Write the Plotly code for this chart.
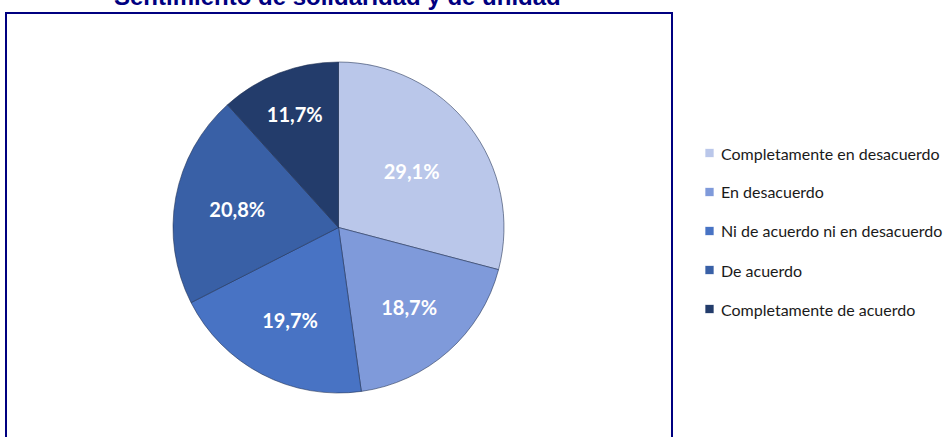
import plotly.graph_objects as go

title = "Sentimiento de solidaridad y de unidad"
categories = [
    "Completamente en desacuerdo",
    "En desacuerdo",
    "Ni de acuerdo ni en desacuerdo",
    "De acuerdo",
    "Completamente de acuerdo",
]
values = [29.1, 18.7, 19.7, 20.8, 11.7]
colors = ["#BAC7EA", "#7F9ADA", "#4873C4", "#3960A6", "#233C6B"]

W, H = 947, 437
labels = [f"{v:.1f}%".replace(".", ",") for v in values]


def px(x):
    return x / W


def py(y):
    return 1 - y / H


fig = go.Figure(go.Pie(
    labels=categories,
    values=values,
    text=labels,
    textinfo="text",
    textposition="inside",
    insidetextorientation="horizontal",
    textfont=dict(family="Lato", size=20, color="white", weight="bold"),
    marker=dict(colors=colors, line=dict(color="rgba(30,45,80,0.55)", width=1)),
    sort=False,
    direction="clockwise",
    rotation=0,
    hoverinfo="label+percent",
    showlegend=False,
    domain=dict(x=[px(173), px(504)], y=[py(393), py(62)]),
))

# outer frame of the chart area
fig.add_shape(type="rect", xref="paper", yref="paper",
              x0=px(6), x1=px(672), y0=py(460), y1=py(13),
              line=dict(color="#000080", width=2), fillcolor="rgba(0,0,0,0)")

# title, partly cut off at the top as in the original
fig.add_annotation(text="<b>" + title + "</b>", x=px(337), y=py(-4),
                   xref="paper", yref="paper", xanchor="center", yanchor="middle",
                   showarrow=False, font=dict(family="Liberation Sans", size=24, color="#000080"))

# legend on the right
row0, gap = 153, 39
for i, (name, col) in enumerate(zip(categories, colors)):
    yc = row0 + i * gap
    fig.add_shape(type="rect", xref="paper", yref="paper",
                  x0=px(705), x1=px(714), y0=py(yc + 4.5), y1=py(yc - 4.5),
                  fillcolor=col, line=dict(color="rgba(255,255,255,0.7)", width=1))
    fig.add_annotation(text=name, x=px(719), y=py(yc), xref="paper", yref="paper",
                       xanchor="left", yanchor="middle", showarrow=False,
                       font=dict(family="Lato", size=16, color="#1a1a1a"))

fig.update_layout(
    width=W, height=H,
    margin=dict(l=0, r=0, t=0, b=0),
    paper_bgcolor="white",
    plot_bgcolor="white",
)
fig.write_html("out.html", config={"displayModeBar": False},
               post_script="document.body.style.margin='0';")
